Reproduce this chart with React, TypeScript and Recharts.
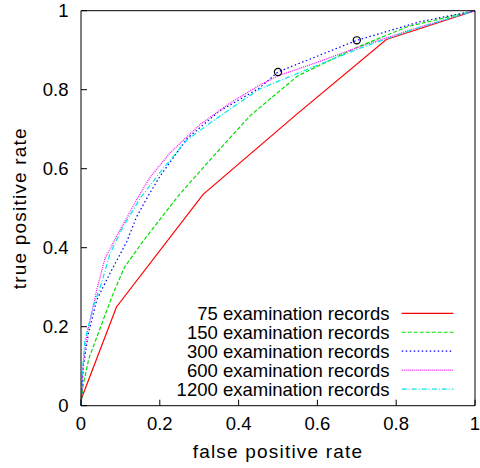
import { ComposedChart, Line, Scatter, XAxis, YAxis, Legend } from "recharts"

const FONT = "'Liberation Sans', Arial, Helvetica, sans-serif"

const TICKS = [0, 0.2, 0.4, 0.6, 0.8, 1]

// 75 examination records
const fpr75 = [0, 0.09, 0.31, 0.55, 0.775, 1]
const tpr75 = [0.015, 0.25, 0.535, 0.74, 0.927, 1]

// 150 examination records
const fpr150 = [0, 0.005, 0.02, 0.05, 0.08, 0.11, 0.16, 0.25, 0.33, 0.43, 0.55, 0.7, 0.83, 1]
const tpr150 = [0, 0.05, 0.12, 0.2, 0.28, 0.35, 0.42, 0.535, 0.625, 0.735, 0.835, 0.907, 0.96, 1]

// 300 examination records
const fpr300 = [0, 0.006, 0.019, 0.04, 0.074, 0.116, 0.141, 0.171, 0.2, 0.268, 0.35, 0.454, 0.5, 0.7, 0.86, 1]
const tpr300 = [0, 0.1, 0.184, 0.268, 0.336, 0.415, 0.478, 0.532, 0.58, 0.675, 0.745, 0.805, 0.845, 0.925, 0.972, 1]

// 600 examination records
const fpr600 = [0, 0.005, 0.015, 0.04, 0.061, 0.099, 0.141, 0.175, 0.226, 0.302, 0.378, 0.454, 0.5, 0.59, 0.708, 0.835, 1]
const tpr600 = [0, 0.1, 0.18, 0.293, 0.373, 0.445, 0.521, 0.578, 0.64, 0.712, 0.766, 0.812, 0.835, 0.866, 0.909, 0.951, 1]

// 1200 examination records
const fpr1200 = [0, 0.003, 0.01, 0.031, 0.052, 0.074, 0.107, 0.15, 0.2, 0.268, 0.327, 0.387, 0.454, 0.59, 0.708, 0.85, 1]
const tpr1200 = [0, 0.08, 0.166, 0.25, 0.31, 0.386, 0.453, 0.525, 0.59, 0.672, 0.715, 0.757, 0.802, 0.858, 0.905, 0.955, 1]

// circled operating points
const markFpr = [0.5, 0.7]
const markTpr = [0.845, 0.925]

const toPoints = (xs: number[], ys: number[]) => xs.map((x, i) => ({ x, y: ys[i] }))

const SERIES = [
  { name: "75 examination records", xs: fpr75, ys: tpr75, color: "#ff0000", dash: undefined },
  { name: "150 examination records", xs: fpr150, ys: tpr150, color: "#00e000", dash: "4 2" },
  { name: "300 examination records", xs: fpr300, ys: tpr300, color: "#0000ff", dash: "1.5 2.5" },
  { name: "600 examination records", xs: fpr600, ys: tpr600, color: "#ff00ff", dash: "1 1" },
  { name: "1200 examination records", xs: fpr1200, ys: tpr1200, color: "#00e8e8", dash: "5 2 1 2" },
]

const tickStyle = { fontSize: 18.5, fill: "#000", fontFamily: FONT }
const axisLine = { stroke: "#000", strokeWidth: 1 }

function KeyBox() {
  return (
    <svg width={480} height={468} style={{ display: "block", pointerEvents: "none" }}>
      {SERIES.map((s, i) => {
        const cy = 313.3 + i * 18.95
        return (
          <g key={s.name}>
            <text
              x={389.5}
              y={cy}
              dy="0.36em"
              textAnchor="end"
              fontSize={18.5}
              fontFamily={FONT}
              fill="#000"
            >
              {s.name}
            </text>
            <line x1={401.7} x2={453.3} y1={cy} y2={cy} stroke={s.color} strokeWidth={1.2} strokeDasharray={s.dash} />
          </g>
        )
      })}
    </svg>
  )
}

export default function App() {
  return (
    <div style={{ position: "absolute", left: 0, top: 0 }}>
      <ComposedChart width={480} height={468} margin={{ top: 9.7, right: 4, bottom: 0, left: 0 }}>
        <XAxis
          xAxisId="b"
          dataKey="x"
          type="number"
          domain={[0, 1]}
          ticks={TICKS}
          interval={0}
          height={62.3}
          tickSize={-6}
          tickMargin={17.3}
          axisLine={axisLine}
          tickLine={axisLine}
          tick={tickStyle}
          label={{
            content: ({ viewBox }: any) => (
              <text
                x={viewBox.x + viewBox.width / 2}
                y={viewBox.y + 52}
                textAnchor="middle"
                fontSize={19}
                letterSpacing={1.2}
                fontFamily={FONT}
                fill="#000"
              >
                false positive rate
              </text>
            ),
          }}
        />
        <XAxis
          xAxisId="t"
          orientation="top"
          dataKey="x"
          type="number"
          domain={[0, 1]}
          ticks={TICKS}
          interval={0}
          height={1}
          tickSize={-6}
          axisLine={axisLine}
          tickLine={axisLine}
          tickFormatter={() => ""}
        />
        <YAxis
          yAxisId="l"
          type="number"
          domain={[0, 1]}
          ticks={TICKS}
          interval={0}
          width={81}
          tickSize={-6}
          tickMargin={18.5}
          axisLine={axisLine}
          tickLine={axisLine}
          tick={tickStyle}
          label={{
            content: ({ viewBox }: any) => {
              const cx = viewBox.x + 19
              const cy = viewBox.y + viewBox.height / 2
              return (
                <text
                  x={cx}
                  y={cy}
                  dy="0.36em"
                  transform={`rotate(-90, ${cx}, ${cy})`}
                  textAnchor="middle"
                  fontSize={19}
                  letterSpacing={1.2}
                  fontFamily={FONT}
                  fill="#000"
                >
                  true positive rate
                </text>
              )
            },
          }}
        />
        <YAxis
          yAxisId="r"
          orientation="right"
          type="number"
          domain={[0, 1]}
          ticks={TICKS}
          interval={0}
          width={1}
          tickSize={-6}
          axisLine={axisLine}
          tickLine={axisLine}
          tickFormatter={() => ""}
        />
        {SERIES.map((s) => (
          <Line
            key={s.name}
            xAxisId="b"
            yAxisId="l"
            data={toPoints(s.xs, s.ys)}
            dataKey="y"
            name={s.name}
            type="linear"
            stroke={s.color}
            strokeWidth={1.2}
            strokeDasharray={s.dash}
            dot={false}
            activeDot={false}
            isAnimationActive={false}
          />
        ))}
        <Scatter
          xAxisId="b"
          yAxisId="l"
          data={toPoints(markFpr, markTpr)}
          dataKey="y"
          isAnimationActive={false}
          shape={(p: any) => <circle cx={p.cx} cy={p.cy} r={3.6} fill="none" stroke="#000" strokeWidth={1.2} />}
        />
        <Legend
          layout="horizontal"
          verticalAlign="middle"
          content={() => <KeyBox />}
          wrapperStyle={{ left: 0, top: 0, width: 480, height: 468, pointerEvents: "none" }}
        />
      </ComposedChart>
    </div>
  )
}
